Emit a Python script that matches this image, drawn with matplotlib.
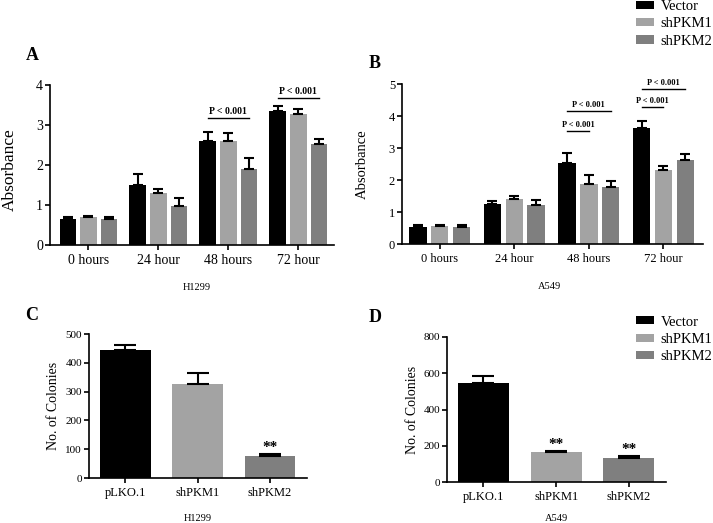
import numpy as np
import matplotlib
matplotlib.use('Agg')
import matplotlib.pyplot as plt
from matplotlib.patches import Patch

plt.rcParams['font.family'] = ['Liberation Serif', 'DejaVu Serif']
plt.rcParams['axes.linewidth'] = 1.2

# ---- data ----
times = ['0 hours', '24 hour', '48 hours', '72 hour']
groups = ['Vector', 'shPKM1', 'shPKM2']
colors = ['#000000', '#a3a3a3', '#7f7f7f']

h1299_vector = [0.65, 1.51, 2.61, 3.36]
h1299_vector_err = [0.06, 0.27, 0.21, 0.11]
h1299_pkm1 = [0.69, 1.31, 2.59, 3.28]
h1299_pkm1_err = [0.03, 0.08, 0.20, 0.11]
h1299_pkm2 = [0.66, 0.97, 1.91, 2.52]
h1299_pkm2_err = [0.03, 0.21, 0.26, 0.13]

a549_vector = [0.54, 1.24, 2.53, 3.64]
a549_vector_err = [0.06, 0.09, 0.32, 0.21]
a549_pkm1 = [0.56, 1.41, 1.89, 2.31]
a549_pkm1_err = [0.03, 0.09, 0.27, 0.12]
a549_pkm2 = [0.53, 1.22, 1.77, 2.63]
a549_pkm2_err = [0.05, 0.14, 0.20, 0.17]

# significance brackets: (time index, first bar, last bar, height)
sig_h1299 = [(2, 0, 2, 3.18), (3, 0, 2, 3.67)]
sig_a549 = [(2, 0, 1, 3.54), (2, 0, 2, 4.15), (3, 0, 1, 4.27), (3, 0, 2, 4.85)]

constructs = ['pLKO.1', 'shPKM1', 'shPKM2']
h1299_colonies = [443, 328, 75]
h1299_colonies_err = [19, 35, 7]
a549_colonies = [548, 165, 134]
a549_colonies_err = [35, 4, 9]
h1299_stars = [False, False, True]
a549_stars = [False, True, True]

W, H = 713, 523
fig = plt.figure(figsize=(W/100, H/100), dpi=100)

def add_ax(l, t, r, b):
    return fig.add_axes([l/W, 1-b/H, (r-l)/W, (b-t)/H])

def style(ax, fs):
    ax.spines['top'].set_visible(False)
    ax.spines['right'].set_visible(False)
    ax.tick_params(axis='both', length=3.5, width=1.2, pad=1.5, labelsize=fs)
    ax.tick_params(axis='x', pad=3)

def timecourse(ax, series, errs, ymax, step, sigs, fs, pfs, poff, cap):
    x = np.arange(len(times))
    for i, (vals, err) in enumerate(zip(series, errs)):
        ax.bar(x + (i-1)*step, vals, width=0.235, color=colors[i],
               yerr=[np.zeros(len(err)), err], capsize=cap,
               error_kw=dict(elinewidth=1.5, capthick=1.5, ecolor='black'))
    for t, b0, b1, h in sigs:
        x0, x1 = t + (b0-1)*step, t + (b1-1)*step
        ax.plot([x0, x1], [h, h], color='black', lw=1)
        ax.text((x0+x1)/2, h + poff, 'P < 0.001', ha='center', va='center',
                fontsize=pfs, fontweight='bold')
    ax.set_xticks(x)
    ax.set_xticklabels(times)
    ax.set_ylim(0, ymax)
    ax.set_yticks(range(0, ymax+1))
    style(ax, fs)

# A
axA = add_ax(50, 85, 334, 245)
timecourse(axA, [h1299_vector, h1299_pkm1, h1299_pkm2],
           [h1299_vector_err, h1299_pkm1_err, h1299_pkm2_err],
           4, 0.296, sig_h1299, 10, 7, 0.16, 3.5)
axA.set_xlim(-0.55, 3.51)
axA.set_ylabel('Absorbance', fontsize=12.5)
axA.yaxis.set_label_coords(-0.113, 0.47)
axA.set_xlabel('H1299', fontsize=7.5)
axA.xaxis.set_label_coords(0.517, -0.24)

# B
axB = add_ax(402, 84, 703, 244)
timecourse(axB, [a549_vector, a549_pkm1, a549_pkm2],
           [a549_vector_err, a549_pkm1_err, a549_pkm2_err],
           5, 0.293, sig_a549, 9, 6, 0.19, 3.5)
axB.set_xlim(-0.505, 3.53)
axB.set_ylabel('Absorbance', fontsize=10.5)
axB.yaxis.set_label_coords(-0.11, 0.5)
axB.set_xlabel('A549', fontsize=7.5)
axB.xaxis.set_label_coords(0.49, -0.24)

def colonies(ax, vals, err, stars, ymax, ystep):
    x = np.arange(len(constructs))
    ax.bar(x, vals, width=0.70, color=colors,
           yerr=[np.zeros(len(err)), err], capsize=8,
           error_kw=dict(elinewidth=1.5, capthick=1.5, ecolor='black'))
    for xi, v, e, s in zip(x, vals, err, stars):
        if s:
            ax.annotate('**', (xi, v+e), xytext=(0, 0), textcoords='offset points',
                        ha='center', va='bottom', fontsize=11, fontweight='bold')
    ax.set_xticks(x)
    ax.set_xticklabels(constructs)
    ax.set_xlim(-0.5, 2.51)
    ax.set_ylim(0, ymax)
    ax.set_yticks(range(0, ymax+1, ystep))
    style(ax, 8)
    ax.tick_params(axis='x', labelsize=9)
    ax.set_ylabel('No. of Colonies', fontsize=10)

# C
axC = add_ax(89, 334, 307, 478)
colonies(axC, h1299_colonies, h1299_colonies_err, h1299_stars, 500, 100)
axC.yaxis.set_label_coords(-0.133, 0.5)
axC.set_xlabel('H1299', fontsize=7.5)
axC.xaxis.set_label_coords(0.5, -0.25)

# D
axD = add_ax(447, 337, 666, 482)
colonies(axD, a549_colonies, a549_colonies_err, a549_stars, 800, 200)
axD.yaxis.set_label_coords(-0.128, 0.5)
axD.set_xlabel('A549', fontsize=7.5)
axD.xaxis.set_label_coords(0.5, -0.22)

# panel letters
for lab, px, py in [('A', 32, 56), ('B', 375, 64), ('C', 32, 315), ('D', 375, 317)]:
    fig.text(px/W, 1-py/H, lab, fontsize=13, fontweight='bold', ha='center', va='center')

# legends
handles = [Patch(facecolor=c, edgecolor='none') for c in colors]
for top in [0, 315.5]:
    fig.legend(handles, groups, loc='upper left', bbox_to_anchor=(636/W, 1-top/H),
               frameon=False, fontsize=10.5, handlelength=1.2, handleheight=0.5,
               handletextpad=0.5, labelspacing=0.3, borderpad=0, borderaxespad=0)

fig.savefig('out.png', dpi=100)
